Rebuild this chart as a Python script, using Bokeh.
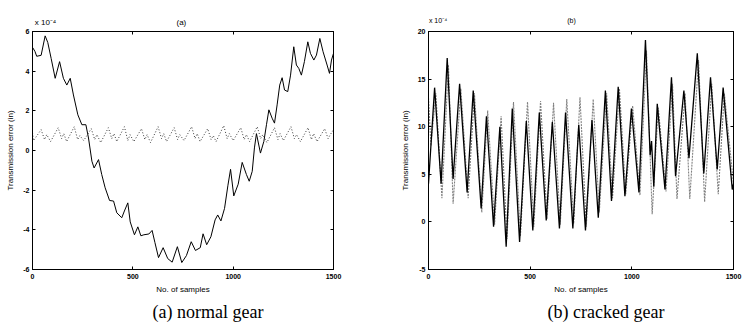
from bokeh.plotting import figure
from bokeh.models import LinearAxis, FixedTicker, Range1d, Title
from bokeh.layouts import row
from bokeh.embed import file_html
from bokeh.resources import INLINE

# ---------------- data (values in units of 1e-4 in) ----------------
x_ticks = [0, 500, 1000, 1500]
x_tick_labels = ["0", "500", "1000", "1500"]

ya_ticks = [-6, -4, -2, 0, 2, 4, 6]
ya_tick_labels = ["-6", "-4", "-2", "0", "2", "4", "6"]
yb_ticks = [-5, 0, 5, 10, 15, 20]
yb_tick_labels = ["-5", "0", "5", "10", "15", "20"]

# texts above the frames: (position along x, text)
a_head_pos = [65, 742]
a_head_text = ["x 10\u207b\u2074", "(a)"]
b_head_pos = [47, 703]
b_head_text = ["x 10\u207b\u2074", "(b)"]

# (a) normal gear - solid trace
a_solid_x = [0, 12, 21, 43, 63, 76, 93, 113, 135, 154, 171, 188, 204, 226, 246, 266,
             279, 296, 307, 329, 345, 362, 384, 404, 420, 445, 458, 475, 487, 508,
             525, 540, 555, 580, 596, 610, 628, 651, 674, 696, 722, 744, 767, 791,
             812, 836, 850, 868, 889, 910, 923, 939, 957, 974, 987, 1003, 1025, 1045,
             1066, 1080, 1095, 1106, 1116, 1136, 1153, 1166, 1178, 1194, 1206, 1219,
             1232, 1244, 1256, 1272, 1286, 1302, 1315, 1327, 1340, 1355, 1372, 1385,
             1402, 1415, 1432, 1448, 1468, 1480, 1490, 1500]
a_solid_y = [5.2, 5.0, 4.75, 4.8, 5.78, 5.45, 4.64, 3.64, 4.48, 3.64, 3.3, 3.64, 2.8, 1.8, 1.3, 1.3,
             0.63, -0.54, -0.88, -0.46, -1.21, -1.88, -2.52, -2.55, -3.14, -3.39, -3.05, -2.64, -3.6, -4.25,
             -3.85, -4.3, -4.25, -4.21, -4.03, -4.64, -5.4, -4.9, -5.45, -5.63, -4.85, -5.65, -5.3, -4.6,
             -5.04, -4.9, -4.2, -4.75, -4.35, -3.5, -3.25, -3.55, -2.92, -1.75, -0.95, -2.29, -1.7, -0.6,
             -1.21, -1.55, -1.05, 0.13, 0.85, -0.13, 0.46, 1.3, 2.05, 1.63, 1.38, 2.3,
             3.3, 3.67, 3.05, 2.97, 3.8, 5.23, 4.31, 4.14, 3.8, 4.48, 5.48, 4.9,
             4.56, 4.81, 5.65, 4.98, 4.31, 3.89, 4.56, 4.9]

# (a) normal gear - dotted trace
a_dot_x = [0, 5,
           43, 60, 71, 90, 128, 145, 156, 170, 208, 225, 236, 255,
           293, 310, 321, 340, 378, 395, 406, 420, 458, 475, 486, 505,
           543, 560, 571, 588, 626, 643, 654, 668, 706, 723, 734, 755,
           793, 810, 821, 835, 873, 890, 901, 915, 953, 970, 981, 1000,
           1038, 1055, 1066, 1082, 1120, 1137, 1148, 1168, 1206, 1223, 1234, 1250,
           1288, 1305, 1316, 1335, 1373, 1390, 1401, 1418, 1456, 1473, 1484, 1500]
a_dot_y = [0.9, 0.5,
           1.05, 0.55, 0.8, 0.45, 1.15, 0.6, 0.85, 0.45, 1.2, 0.55, 0.75, 0.5,
           1.1, 0.55, 0.8, 0.4, 1.15, 0.6, 0.85, 0.45, 1.2, 0.5, 0.8, 0.45,
           1.1, 0.55, 0.8, 0.4, 1.2, 0.6, 0.85, 0.45, 1.15, 0.55, 0.8, 0.5,
           1.2, 0.6, 0.85, 0.45, 1.1, 0.55, 0.75, 0.45, 1.25, 0.6, 0.85, 0.5,
           1.15, 0.55, 0.8, 0.45, 1.2, 0.6, 0.8, 0.4, 1.15, 0.55, 0.85, 0.5,
           1.2, 0.6, 0.8, 0.45, 1.15, 0.55, 0.85, 0.45, 1.1, 0.6, 0.8, 1.05]

# (b) cracked gear - solid trace
b_solid_x = [0, 30, 62, 92, 121, 153, 190, 220, 259, 285, 320, 351, 382, 412, 448, 481,
             513, 545, 579, 609, 644, 674, 710, 739, 772, 804, 835, 870, 900, 933,
             966, 998, 1035, 1067, 1090, 1097, 1108, 1125, 1163, 1195, 1215, 1256,
             1281, 1322, 1354, 1387, 1420, 1449, 1494, 1500]
b_solid_y = [4.0, 14.1, 4.0, 17.2, 4.5, 14.5, 3.1, 13.8, 1.4, 11.1, -0.5, 10.0, -2.6, 11.9, -2.1, 10.6,
             -0.9, 11.5, 0.15, 10.5, -0.7, 11.5, -0.7, 10.2, -0.9, 10.7, 0.45, 13.8, 2.2, 14.2,
             2.7, 11.9, 3.1, 19.1, 7.0, 8.5, 3.7, 12.4, 3.4, 15.2, 4.8, 13.8,
             6.7, 17.7, 5.1, 15.2, 5.5, 14.1, 3.4, 4.0]

# (b) cracked gear - dotted trace
b_dot_x = [0, 12, 36, 66, 98, 121, 159, 195, 226, 262, 291, 325, 357, 386, 418, 452,
           487, 518, 551, 583, 615, 648, 680, 714, 745, 776, 810, 840, 876, 905,
           939, 970, 1004, 1040, 1072, 1100, 1130, 1168, 1200, 1222, 1262, 1285,
           1328, 1358, 1393, 1425, 1455, 1500]
b_dot_y = [13.0, 8.0, 13.5, 2.5, 16.5, 1.9, 14.0, 2.5, 13.5, 1.0, 11.7, -0.3, 11.1, -1.8, 12.6, -1.5,
           12.6, -0.5, 12.7, 0.3, 12.5, -0.3, 12.9, -0.2, 13.1, -0.5, 12.9, 1.0, 13.5, 2.5,
           14.0, 2.9, 12.2, 2.8, 18.0, 0.8, 12.0, 3.2, 14.5, 2.4, 13.5, 2.4,
           17.0, 2.1, 14.5, 2.9, 13.5, 4.0]

SANS = "Liberation Sans"
SERIF = "Liberation Serif"


def hidden_label_axis(ticks):
    # axis that only draws inward tick marks on the frame edge
    return LinearAxis(ticker=FixedTicker(ticks=ticks), major_label_text_font_size="1px",
                      major_label_text_color=None, major_tick_in=3, major_tick_out=0,
                      minor_tick_in=0, minor_tick_out=0, major_label_standoff=0,
                      axis_line_color="black", major_tick_line_color="black")


def make_panel(width, height, bl, br, bt, bb, ylo, yhi, yticks, ylabels,
               head_pos, head_text, head_size, head_standoff, caption, cap_offset, cap_standoff):
    p = figure(width=width, height=height,
               x_range=Range1d(0, 1500), y_range=Range1d(ylo, yhi),
               output_backend="svg", toolbar_location=None,
               min_border_left=bl, min_border_right=br,
               min_border_top=bt, min_border_bottom=bb,
               background_fill_color="white", border_fill_color="white")
    p.xgrid.visible = False
    p.ygrid.visible = False
    p.outline_line_color = "black"
    p.outline_line_width = 1

    xa = p.xaxis[0]
    xa.ticker = FixedTicker(ticks=x_ticks)
    xa.major_label_overrides = dict(zip(x_ticks, x_tick_labels))
    xa.axis_label = "No. of samples"
    ya = p.yaxis[0]
    ya.ticker = FixedTicker(ticks=yticks)
    ya.major_label_overrides = dict(zip(yticks, ylabels))
    ya.axis_label = "Transmission error (in)"

    for ax in (xa, ya):
        ax.major_tick_in = 3
        ax.major_tick_out = 0
        ax.minor_tick_in = 0
        ax.minor_tick_out = 0
        ax.axis_line_color = "black"
        ax.major_tick_line_color = "black"
        ax.major_label_text_font = SANS
        ax.major_label_text_font_size = "7px"
        ax.major_label_text_font_style = "bold"
        ax.major_label_text_color = "black"
        ax.axis_label_text_font = SANS
        ax.axis_label_text_font_size = "8px"
        ax.axis_label_text_font_style = "normal"
        ax.axis_label_text_color = "black"
    xa.major_label_standoff = 4
    xa.axis_label_standoff = 3
    ya.major_label_standoff = 3
    ya.axis_label_standoff = 5

    # tick marks on top and right edges (box)
    p.add_layout(hidden_label_axis(x_ticks), "above")
    p.add_layout(hidden_label_axis(yticks), "right")

    # header texts ("x 10^-4" and panel letter) on one row above the frame
    head = LinearAxis(ticker=FixedTicker(ticks=head_pos),
                      major_label_overrides=dict(zip(head_pos, head_text)),
                      axis_line_color=None, major_tick_line_color=None,
                      minor_tick_line_color=None, major_tick_in=0, major_tick_out=0,
                      minor_tick_in=0, minor_tick_out=0,
                      major_label_standoff=head_standoff,
                      major_label_text_font=SANS, major_label_text_font_size=head_size,
                      major_label_text_color="black")
    p.add_layout(head, "above")

    # caption below the chart
    cap = Title(text=caption, align="left", offset=cap_offset, standoff=cap_standoff,
                text_font=SERIF, text_font_size="18px", text_font_style="normal",
                text_color="black")
    p.add_layout(cap, "below")
    return p


# ---------------- panel (a) ----------------
pa = make_panel(378, 332, 32, 45, 31, 62, -6, 6, ya_ticks, ya_tick_labels,
                a_head_pos, a_head_text, "8px", 5, "(a) normal gear", 120, 6)
pa.line(a_solid_x, a_solid_y, line_color="black", line_width=1)
pa.line(a_dot_x, a_dot_y, line_color="#3a3a3a", line_width=1, line_dash="1 2")

# ---------------- panel (b) ----------------
pb = make_panel(370, 332, 50, 15, 28, 63, -5, 20, yb_ticks, yb_tick_labels,
                b_head_pos, b_head_text, "7px", 8, "(b) cracked gear", 119, 6)
pb.line(b_dot_x, b_dot_y, line_color="#808080", line_width=1.1, line_dash="2 1")
pb.line(b_solid_x, b_solid_y, line_color="black", line_width=1.3)

layout = row(pa, pb)
open("out.html", "w").write(file_html(layout, INLINE))
